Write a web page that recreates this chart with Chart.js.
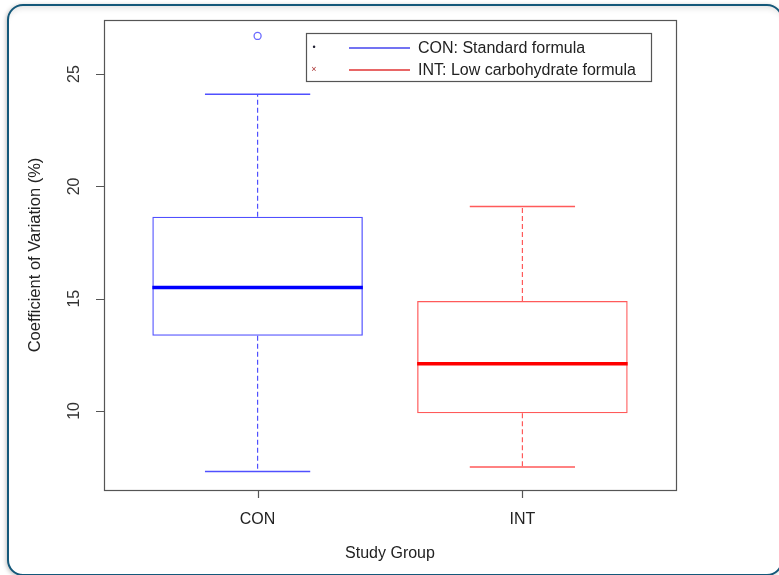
<!DOCTYPE html>
<html>
<head>
<meta charset="utf-8">
<script src="https://cdn.jsdelivr.net/npm/chart.js@4.4.0/dist/chart.umd.min.js"></script>
<style>
    html, body { margin: 0; padding: 0; background: #fff; }
    #frame {
        position: absolute; left: 7px; top: 4px; width: 776px; height: 572px;
        box-sizing: border-box; border: 2px solid #14587a; border-radius: 16px;
        background: #fff;
        box-shadow: -1px 1px 4px rgba(0,0,0,0.25), inset 0 7px 6px -5px rgba(0,0,0,0.12);
    }
    #wrap { position: absolute; left: 0; top: 0; width: 779px; height: 575px; }
</style>
</head>
<body>
<div id="frame"></div>
<div id="wrap"><canvas id="myChart"></canvas></div>
<script>
// box statistics
const groups = ['CON', 'INT'];
const groupPos = [1, 2];
const lowerWhisker = [7.3, 7.5];
const q1 = [13.35, 9.9];
const median = [15.5, 12.1];
const q3 = [18.65, 14.9];
const upperWhisker = [24.1, 19.1];
const outlierGroup = ['CON'];
const outlierValue = [26.7];
const yTicks = [10, 15, 20, 25];
const legendLabels = ['CON: Standard formula', 'INT: Low carbohydrate formula'];

const lineColors = ['#5050ff', '#ff5a5a'];
const medianColors = ['#0000ff', '#ff0000'];
const FONT = 'Liberation Sans, Arial, sans-serif';

const boxExtras = {
    id: 'boxExtras',
    beforeDatasetsDraw(chart) {
        const ctx = chart.ctx;
        const y = chart.scales.y;
        const bars = chart.getDatasetMeta(0).data;
        bars.forEach((bar, i) => {
            const half = bar.width / 2;
            ctx.save();
            ctx.strokeStyle = lineColors[i];
            ctx.lineWidth = 1.2;
            // dashed whiskers
            ctx.setLineDash([5, 3]);
            ctx.beginPath();
            ctx.moveTo(bar.x, y.getPixelForValue(q3[i]));
            ctx.lineTo(bar.x, y.getPixelForValue(upperWhisker[i]));
            ctx.moveTo(bar.x, y.getPixelForValue(q1[i]));
            ctx.lineTo(bar.x, y.getPixelForValue(lowerWhisker[i]));
            ctx.stroke();
            // caps
            ctx.setLineDash([]);
            ctx.lineWidth = 1.5;
            ctx.beginPath();
            [upperWhisker[i], lowerWhisker[i]].forEach(v => {
                const py = y.getPixelForValue(v);
                ctx.moveTo(bar.x - half / 2, py);
                ctx.lineTo(bar.x + half / 2, py);
            });
            ctx.stroke();
            ctx.restore();
        });
    },
    afterDatasetsDraw(chart) {
        const ctx = chart.ctx;
        const y = chart.scales.y;
        const bars = chart.getDatasetMeta(0).data;
        bars.forEach((bar, i) => {
            const half = bar.width / 2;
            const py = y.getPixelForValue(median[i]);
            ctx.save();
            ctx.strokeStyle = medianColors[i];
            ctx.lineWidth = 3.5;
            ctx.beginPath();
            ctx.moveTo(bar.x - half, py);
            ctx.lineTo(bar.x + half, py);
            ctx.stroke();
            ctx.restore();
        });
    },
    afterDraw(chart) {
        const ctx = chart.ctx;
        const a = chart.chartArea;
        const x = chart.scales.x;
        const y = chart.scales.y;
        ctx.save();
        // plot frame
        ctx.strokeStyle = '#555';
        ctx.lineWidth = 1.2;
        ctx.strokeRect(Math.round(a.left) + 0.5, Math.round(a.top) + 0.5, a.right - a.left, a.bottom - a.top);
        // tick marks
        ctx.strokeStyle = '#555';
        ctx.lineWidth = 1.2;
        ctx.beginPath();
        yTicks.forEach(v => {
            const py = Math.round(y.getPixelForValue(v)) + 0.5;
            ctx.moveTo(a.left - 8, py);
            ctx.lineTo(a.left, py);
        });
        groupPos.forEach(v => {
            const px = Math.round(x.getPixelForValue(v)) + 0.5;
            ctx.moveTo(px, a.bottom);
            ctx.lineTo(px, a.bottom + 8);
        });
        ctx.stroke();
        // rotated y tick labels
        ctx.fillStyle = '#333';
        ctx.font = '16px ' + FONT;
        ctx.textAlign = 'center';
        ctx.textBaseline = 'middle';
        yTicks.forEach(v => {
            ctx.save();
            ctx.translate(a.left - 29, y.getPixelForValue(v));
            ctx.rotate(-Math.PI / 2);
            ctx.fillText(String(v), 0, 0);
            ctx.restore();
        });
        // legend box
        const lx = a.right - 370, ly = a.top + 13, lw = 345, lh = 48;
        ctx.strokeStyle = '#555';
        ctx.lineWidth = 1.2;
        ctx.strokeRect(lx + 0.5, ly + 0.5, lw, lh);
        legendLabels.forEach((label, i) => {
            const ry = ly + 15 + i * 22;
            // tiny symbols
            ctx.fillStyle = i === 0 ? '#223' : '#a33';
            ctx.font = '9px ' + FONT;
            ctx.textAlign = 'center';
            ctx.fillText(i === 0 ? '•' : '×', lx + 8, ry);
            ctx.strokeStyle = i === 0 ? '#4444ee' : '#e03333';
            ctx.lineWidth = 1.5;
            ctx.beginPath();
            ctx.moveTo(lx + 43, ry);
            ctx.lineTo(lx + 104, ry);
            ctx.stroke();
            ctx.fillStyle = '#222';
            ctx.font = '16px ' + FONT;
            ctx.textAlign = 'left';
            ctx.fillText(label, lx + 112, ry + 1);
        });
        ctx.restore();
    }
};

const ctx = document.getElementById('myChart').getContext('2d');
const chart = new Chart(ctx, {
    type: 'bar',
    data: {
        datasets: [{
            label: 'box',
            data: groupPos.map((x, i) => ({x: x, y: [q1[i], q3[i]]})),
            backgroundColor: 'rgba(255,255,255,0)',
            borderColor: lineColors,
            borderWidth: 1.3,
            borderSkipped: false,
            categoryPercentage: 1,
            barPercentage: 0.795,
        }, {
            type: 'scatter',
            label: 'outliers',
            data: outlierValue.map((v, i) => ({x: groupPos[groups.indexOf(outlierGroup[i])], y: v})),
            pointStyle: 'circle',
            pointRadius: 3.5,
            pointBorderWidth: 1.3,
            pointBorderColor: '#6a6aff',
            pointBackgroundColor: 'rgba(255,255,255,0)',
        }],
    },
    options: {
        responsive: true,
        maintainAspectRatio: false,
        animation: false,
        layout: {padding: {left: 0, top: 20, right: 103, bottom: 0}},
        plugins: {legend: {display: false}, tooltip: {enabled: false}},
        scales: {
            x: {
                type: 'linear',
                min: 0.42,
                max: 2.58,
                offset: false,
                afterBuildTicks: s => { s.ticks = groupPos.map(v => ({value: v})); },
                afterFit: s => { s.height = 85; },
                border: {display: false},
                grid: {offset: false, display: false, tickLength: 8},
                ticks: {
                    color: '#222',
                    font: {family: FONT, size: 16},
                    padding: 12,
                    maxRotation: 0,
                    autoSkip: false,
                    callback: v => groups[groupPos.indexOf(v)] || '',
                },
                title: {
                    display: true,
                    text: 'Study Group',
                    color: '#222',
                    font: {family: FONT, size: 16},
                    padding: {top: 0, bottom: 12},
                },
            },
            y: {
                min: 6.48,
                max: 27.41,
                afterBuildTicks: s => { s.ticks = yTicks.map(v => ({value: v})); },
                afterFit: s => { s.width = 104; },
                border: {display: false},
                grid: {display: false},
                ticks: {color: 'rgba(0,0,0,0)'},
                title: {
                    display: true,
                    text: 'Coefficient of Variation (%)',
                    color: '#222',
                    font: {family: FONT, size: 16.5},
                    padding: {top: 26, bottom: 0},
                },
            },
        },
    },
    plugins: [boxExtras],
});
</script>
</body>
</html>
